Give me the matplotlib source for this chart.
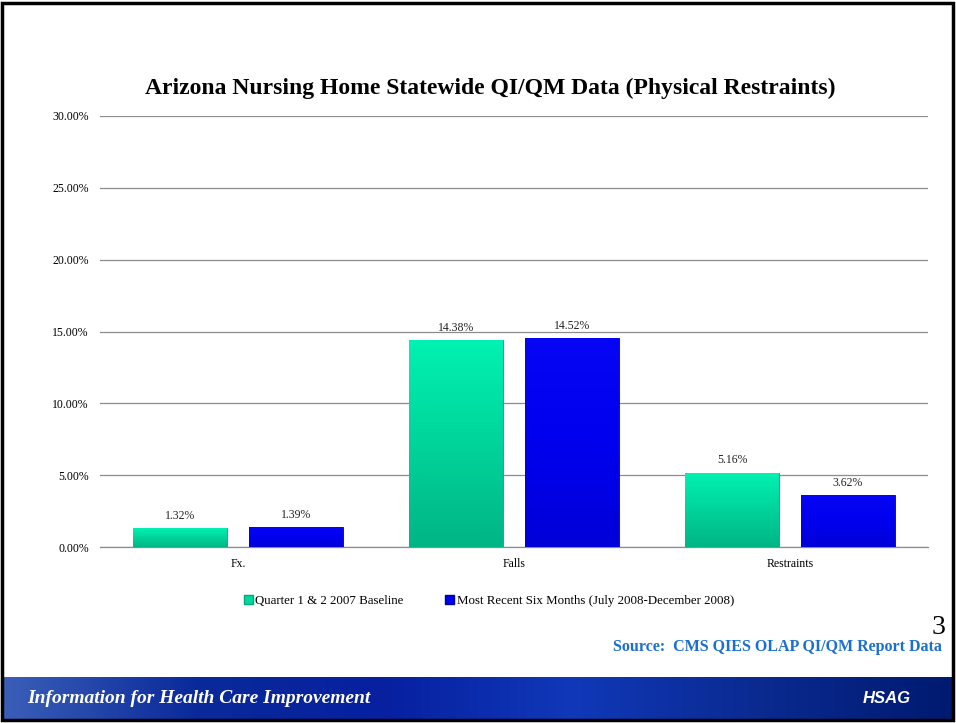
import numpy as np
import matplotlib
matplotlib.use("Agg")
import matplotlib.pyplot as plt
from matplotlib.patches import Rectangle
from matplotlib.colors import LinearSegmentedColormap

categories = ["Fx.", "Falls", "Restraints"]
baseline = [1.32, 14.38, 5.16]
recent = [1.39, 14.52, 3.62]
series_names = ["Quarter 1 & 2 2007 Baseline", "Most Recent Six Months (July 2008-December 2008)"]
yticks = [0, 5, 10, 15, 20, 25, 30]

plt.rcParams['font.family'] = ['Liberation Serif', 'DejaVu Serif']

fig = plt.figure(figsize=(9.56, 7.23), dpi=100)
ax = fig.add_axes([100/956, 1-547/723, 828/956, 431/723])

x = np.arange(len(categories))
w = 0.34
off = 0.21
green_cmap = LinearSegmentedColormap.from_list("g", ["#00B585", "#00D49A", "#00F2B2"])
blue_cmap = LinearSegmentedColormap.from_list("b", ["#0000D8", "#0000EE", "#0606F5"])

b1 = ax.bar(x - off, baseline, w, color="#00D9A0", edgecolor="#00A878", linewidth=0.6, zorder=3)
b2 = ax.bar(x + off, recent, w, color="#0000EE", edgecolor="#0000A0", linewidth=0.6, zorder=3)

grad = np.linspace(0, 1, 256).reshape(-1, 1)
for bars, cmap in ((b1, green_cmap), (b2, blue_cmap)):
    for p in bars:
        x0, y0 = p.get_x(), p.get_y()
        ww, hh = p.get_width(), p.get_height()
        im = ax.imshow(grad, cmap=cmap, origin="lower", aspect="auto",
                       extent=[x0, x0 + ww, y0, y0 + hh], zorder=3.5)
        im.set_clip_path(p)

for bars, vals in ((b1, baseline), (b2, recent)):
    for p, v in zip(bars, vals):
        ax.text(p.get_x() + p.get_width()/2, v + 0.45, f"{v:.2f}%", ha="center", va="bottom",
                fontsize=8.5, color="#222222", zorder=5)

ax.set_xlim(-0.5, 2.5)
ax.set_ylim(0, 30)
ax.set_yticks(yticks)
ax.set_yticklabels([f"{t:.2f}%" for t in yticks], fontsize=8.5)
ax.set_xticks(x)
ax.set_xticklabels(categories, fontsize=8.5)
ax.tick_params(axis="both", length=0, pad=8)
ax.grid(axis="y", color="#8c8c8c", linewidth=0.9, zorder=0)
ax.axhline(0, color="#8c8c8c", linewidth=0.9, zorder=2, clip_on=False)
for s in ax.spines.values():
    s.set_visible(False)
ax.set_axisbelow(True)

fig.text(490/956, 1-88/723, "Arizona Nursing Home Statewide QI/QM Data (Physical Restraints)",
         ha="center", va="center", fontsize=17, fontweight="bold", color="black")

# legend
handles = [Rectangle((0, 0), 1, 1, facecolor="#00D9A0", edgecolor="#00A878"),
           Rectangle((0, 0), 1, 1, facecolor="#0000EE", edgecolor="#0000A0")]
fig.legend(handles, series_names, loc="center", bbox_to_anchor=(489/956, 1-601/723), ncol=2,
           frameon=False, fontsize=9.3, handlelength=0.7, handleheight=0.7, handletextpad=0.2,
           columnspacing=3.2)

# slide decorations
fig.text(945/956, 1-627/723, "3", ha="right", va="center", fontsize=20, color="black")
fig.text(942/956, 1-647/723, "Source:  CMS QIES OLAP QI/QM Report Data", ha="right", va="center",
         fontsize=11.5, fontweight="bold", color="#1a6fd0")

bax = fig.add_axes([3/956, 1-720/723, 950/956, 43/723])
bgrad = np.linspace(0, 1, 512).reshape(1, -1)
bcmap = LinearSegmentedColormap.from_list("ban", ["#3a5fb8", "#0a2a9a", "#0620a0", "#1038b8", "#0a2a90", "#001a70"])
bax.imshow(bgrad, cmap=bcmap, aspect="auto", extent=[0, 1, 0, 1])
bax.set_xlim(0, 1); bax.set_ylim(0, 1)
bax.axis("off")
bax.text(0.025, 0.5, "Information for Health Care Improvement", color="white", fontsize=14,
         fontstyle="italic", fontweight="bold", va="center", ha="left", family="Liberation Serif")
bax.text(0.93, 0.5, "HSAG", color="white", fontsize=12, fontstyle="italic", fontweight="bold",
         va="center", ha="center", family="Liberation Sans")

# frame border
fig.patches.append(Rectangle((2/956, 3/723), 951/956, 717/723, transform=fig.transFigure,
                             fill=False, edgecolor="black", linewidth=2.5))

fig.savefig("out.png", dpi=100)
